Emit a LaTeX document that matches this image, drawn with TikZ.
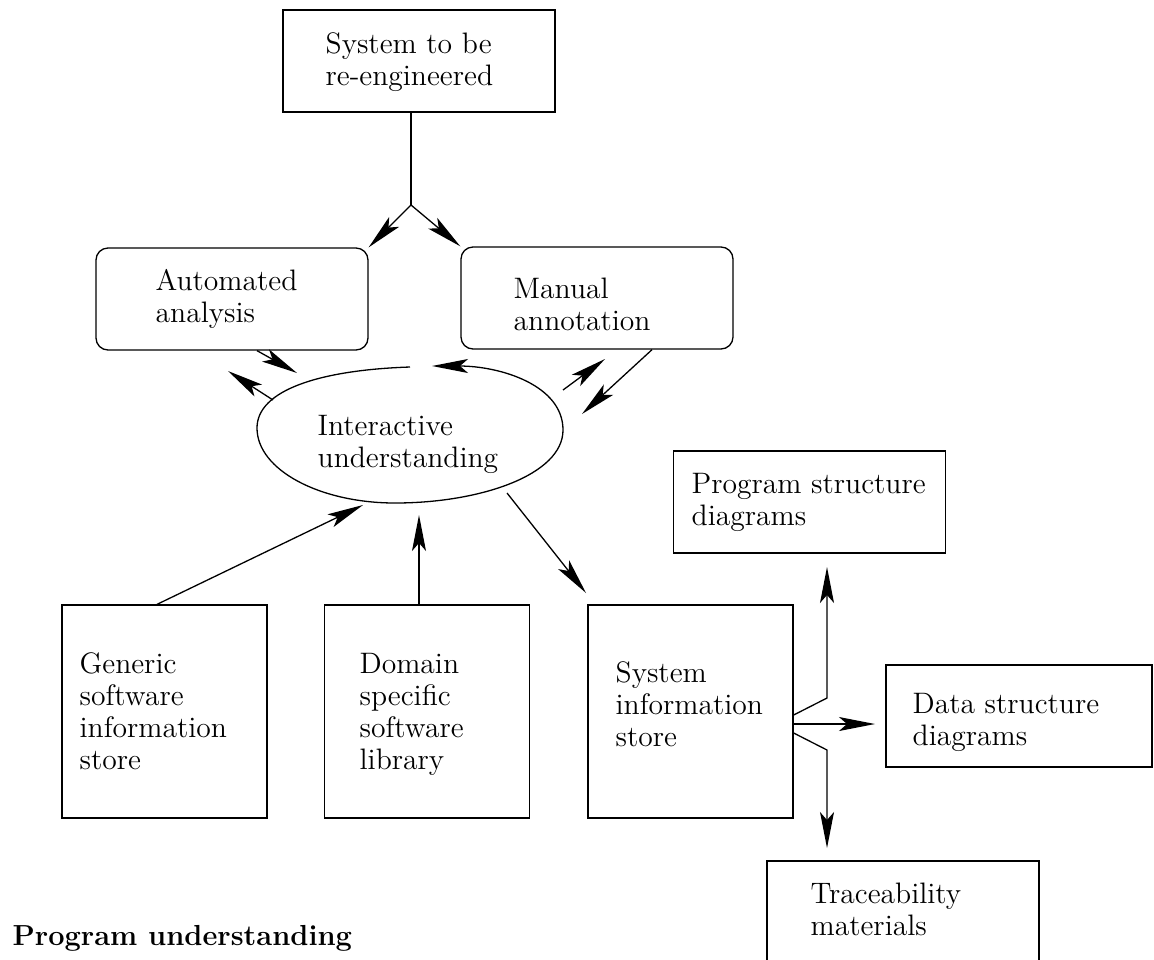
\documentclass[tikz,border=0pt]{standalone}
\usetikzlibrary{arrows.meta,calc}
\begin{document}
\begin{tikzpicture}[x=0.5pt,y=-0.5pt,line width=0.65pt,
  box/.style={draw, inner sep=0pt, minimum width=136pt, minimum height=51pt},
  rbox/.style={box, rounded corners=6pt},
  store/.style={draw, inner sep=0pt, minimum width=102.5pt, minimum height=106.5pt},
  txt/.style={align=left, inner sep=0pt, anchor=base west, font=\fontsize{14.8}{16}\selectfont},
  arr/.style={-{Stealth[length=18pt,width=7pt,inset=4pt]}}]
\useasboundingbox (0,0) rectangle (1154,959);

% boxes (text placed at the baseline of its last line)
\node[box] (sys) at (419,61) {};
\node[txt] (systxt) at (325,85) {System to be\\re-engineered};
\node[rbox] (auto) at (232,299) {};
\node[txt] (autotxt) at (155,322) {Automated\\analysis};
\node[rbox] (manual) at (597,298) {};
\node[txt] (manualtxt) at (513,330) {Manual\\annotation};
\node[box] (prog) at (809.5,502) {};
\node[txt] (progtxt) at (691,525) {Program structure\\diagrams};
\node[box, minimum width=133pt] (data) at (1019,716) {};
\node[txt] (datatxt) at (912,745) {Data structure\\diagrams};
\node[box] (trace) at (903,912) {};
\node[txt] (tracetxt) at (810,935) {Traceability\\materials};
\node[store] (generic) at (164.5,711.5) {};
\node[txt] (generictxt) at (79,769) {Generic\\software\\information\\store};
\node[store] (domain) at (427,711.5) {};
\node[txt] (domaintxt) at (359,769) {Domain\\specific\\software\\library};
\node[store] (sysstore) at (690.5,711.5) {};
\node[txt] (sysstoretxt) at (615,746) {System\\information\\store};

% the blob, its outline ends in an arrow
\draw[arr] (410,367) .. controls (320,370) and (257,390) .. (257,428)
  .. controls (257,470) and (320,503) .. (395,503)
  .. controls (480,503) and (563,475) .. (563,430)
  .. controls (563,385) and (500,366) .. (432,366);
\node[txt] (inter) at (317,467) {Interactive\\understanding};

\node[txt, font=\fontsize{14.5}{16}\selectfont\bfseries] (title) at (12,945) {Program understanding};

% connectors
\coordinate (fork) at (411,205);
\draw (sys.south -| fork) -- (fork);
\draw[arr] (fork) -- (auto.north east);
\draw[arr] (fork) -- (manual.north west);

\coordinate (tipA) at (297,373);
\coordinate (outA) at (273,400);
\coordinate (tipA2) at (228,371);
\draw[arr] ($(auto.south)+(25,0)$) -- (tipA);
\draw[arr] (outA) -- (tipA2);

\coordinate (outM) at (563,390);
\coordinate (tipM) at (605,359);
\coordinate (tipM2) at (582,414);
\draw[arr] (outM) -- (tipM);
\draw[arr] ($(manual.south)+(55,0)$) -- (tipM2);

\coordinate (tipG) at (363,505);
\coordinate (tipD) at (419,515);
\draw[arr] ($(generic.north)+(-7.5,0)$) -- (tipG);
\draw[arr] ($(domain.north)+(-8,0)$) -- (tipD);

\coordinate (outS) at (507,493);
\coordinate (tipS) at (586,593);
\draw[arr] (outS) -- (tipS);

\coordinate (tipP) at (827,567);
\coordinate (tipDS) at (875,724);
\coordinate (tipT) at (827,848);
\draw[arr] ($(sysstore.east)+(0,3.5)$) -- (827,698) -- (tipP);
\draw[arr] ($(sysstore.east)+(0,12.5)$) -- (tipDS);
\draw[arr] ($(sysstore.east)+(0,21.5)$) -- (827,750) -- (tipT);
\end{tikzpicture}
\end{document}
